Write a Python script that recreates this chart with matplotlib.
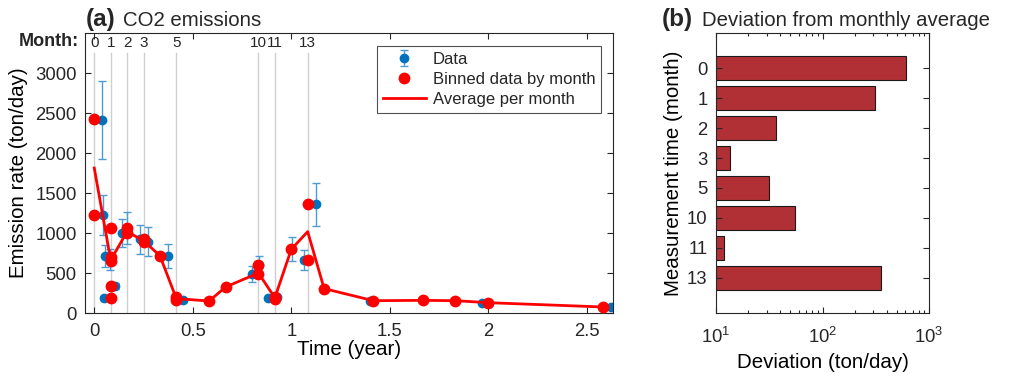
import matplotlib

matplotlib.use("Agg")
import matplotlib.pyplot as plt
import numpy as np

OUT = "out.png"

# raw measurements (year, ton/day, error)
data_t = [0.037, 0.046, 0.051, 0.054, 0.080, 0.105, 0.139, 0.164, 0.232, 0.274, 0.376, 0.452,
          0.799, 0.838, 0.880, 0.930, 1.002, 1.064, 1.125, 1.167, 1.400, 1.830, 1.967, 2.623]
data_y = [2410, 1225, 190, 712, 671, 337, 996, 1058, 920, 891, 716, 158,
          487, 600, 183, 196, 796, 662, 1358, 300, 154, 154, 129, 71]
data_err = [485, 250, 20, 140, 130, 40, 175, 200, 180, 180, 150, 20,
            95, 110, 15, 15, 150, 130, 270, 40, 10, 10, 10, 10]

# binned by month
bin_month = [0, 0, 1, 1, 1, 1, 1, 2, 2, 3, 3, 4, 5, 5, 7, 8, 10, 10, 11, 11,
             12, 13, 13, 14, 17, 20, 22, 24, 31]
bin_y = [2420, 1225, 1058, 704, 650, 337, 183, 1058, 996, 920, 891, 716, 204, 158, 150, 325,
         600, 488, 196, 175, 796, 1358, 662, 305, 154, 158, 154, 129, 75]

# monthly average
avg_month = [0, 1, 2, 3, 4, 5, 7, 8, 10, 11, 12, 13, 14, 17, 20, 22, 24, 31]
avg_y = [1812, 662, 1017, 904, 716, 180, 150, 325, 500, 190, 796, 1017, 305, 154, 158, 154, 129, 75]

# measurement campaigns marked on top
mark_months = [0, 1, 2, 3, 5, 10, 11, 13]

# panel b
dev_labels = ["0", "1", "2", "3", "5", "10", "11", "13"]
dev_values = [604, 309, 36.3, 13.4, 31.3, 54.8, 12.0, 352]

plt.rcParams["font.family"] = ["Liberation Sans", "DejaVu Sans"]
plt.rcParams["mathtext.fontset"] = "custom"
plt.rcParams["mathtext.rm"] = "Liberation Sans"
plt.rcParams["text.color"] = "#262626"
plt.rcParams["axes.edgecolor"] = "#262626"
plt.rcParams["xtick.color"] = "#262626"
plt.rcParams["ytick.color"] = "#262626"
plt.rcParams["xtick.direction"] = "in"
plt.rcParams["ytick.direction"] = "in"

W, H = 1009, 377
fig = plt.figure(figsize=(W / 100, H / 100), dpi=100)

TICK = 13.3
LABEL = 14.8
TITLE = 14.7


def box(x0, y0, x1, y1):
    return [x0 / W, 1 - y1 / H, (x1 - x0) / W, (y1 - y0) / H]


def style(ax, xpad):
    ax.tick_params(which="both", top=True, right=True, labelsize=TICK, length=4, width=0.8)
    ax.tick_params(which="minor", length=2.5)
    ax.tick_params(axis="x", pad=xpad)
    ax.tick_params(axis="y", pad=6)
    for s in ax.spines.values():
        s.set_linewidth(0.8)


# ---- (a) ----
ax = fig.add_axes(box(85, 33, 613, 313))
for m in mark_months:
    ax.plot([m / 12, m / 12], [0, 3250], color="#cfcfcf", lw=1, zorder=0)
    ax.text(m / 12, 3370, str(m), ha="center", va="center", fontsize=11)
fig.text(79 / W, 1 - 41 / H, "Month:", ha="right", va="center", fontsize=13, fontweight="bold")

eb = ax.errorbar(data_t, data_y, yerr=data_err, fmt="o", color="#0072BD", ecolor="#4d9bd4",
                 ms=6, elinewidth=1, capsize=3, capthick=1, zorder=2)
(rb,) = ax.plot(np.array(bin_month) / 12, bin_y, "o", color="#ff0000", ms=7.5, zorder=4)
(ra,) = ax.plot(np.array(avg_month) / 12, avg_y, "-", color="#ff0000", lw=2, zorder=3)

ax.set_xlim(-0.047, 2.633)
ax.set_ylim(0, 3500)
ax.set_xticks([0, 0.5, 1, 1.5, 2, 2.5])
ax.set_xticklabels(["0", "0.5", "1", "1.5", "2", "2.5"])
ax.set_yticks(range(0, 3001, 500))
style(ax, 7)
ax.set_xlabel("Time (year)", fontsize=LABEL)
ax.set_ylabel("Emission rate (ton/day)", fontsize=LABEL)
ax.xaxis.set_label_coords(0.5, -(340 - 313) / 280)
ax.yaxis.set_label_coords((28 - 85) / 528, 0.5)
leg = ax.legend([eb, rb, ra], ["Data", "Binned data by month", "Average per month"],
                loc="upper right", bbox_to_anchor=((601 - 85) / 528, (313 - 46) / 280),
                borderaxespad=0, fontsize=12, frameon=True, fancybox=False,
                edgecolor="#262626", borderpad=0.35, handlelength=2.6,
                labelspacing=0.3, handletextpad=0.4)
leg.get_frame().set_linewidth(0.8)

fig.text(86 / W, 1 - 26 / H, "(a)", fontsize=17.5, fontweight="bold", va="baseline")
fig.text(123 / W, 1 - 26 / H, "CO2 emissions", fontsize=TITLE, va="baseline")

# ---- (b) ----
bx = fig.add_axes(box(716, 33, 929, 313))
pos = np.arange(1, len(dev_labels) + 1)
bx.barh(pos, dev_values, height=0.78, left=0, color="#B03035", edgecolor="#1a1a1a", linewidth=0.8)
bx.set_xscale("log")
bx.set_xlim(10, 1000)
bx.set_ylim(9.167, -0.167)
bx.set_yticks(pos)
bx.set_yticklabels(dev_labels)
style(bx, 10)
bx.tick_params(axis="y", which="minor", left=False, right=False)
bx.set_xlabel("Deviation (ton/day)", fontsize=LABEL)
bx.set_ylabel("Measurement time (month)", fontsize=LABEL)
bx.xaxis.set_label_coords(0.5, -(353 - 313) / 280)
bx.yaxis.set_label_coords((683 - 716) / 213, 0.5)

fig.text(662 / W, 1 - 26 / H, "(b)", fontsize=17.5, fontweight="bold", va="baseline")
fig.text(702 / W, 1 - 26 / H, "Deviation from monthly average", fontsize=TITLE, va="baseline")

fig.savefig(OUT, dpi=100)
